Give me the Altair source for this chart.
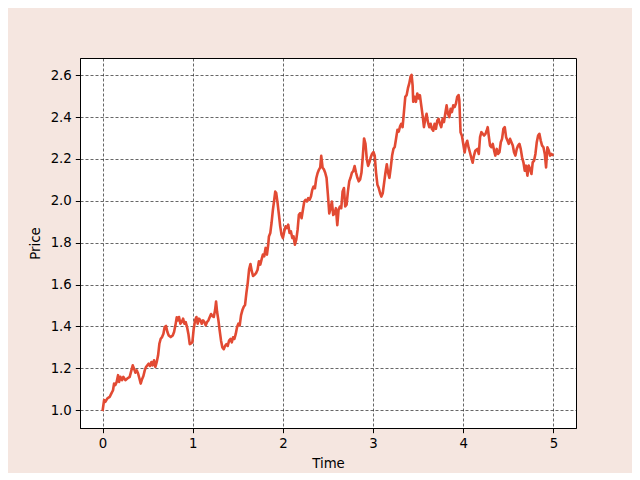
import altair as alt
import pandas as pd

# ---- data ----
times_a = [0.0, 0.017, 0.031, 0.054, 0.079, 0.098, 0.116, 0.128, 0.142, 0.157, 0.172, 0.183, 0.198, 0.216,
           0.231, 0.253, 0.275, 0.301, 0.320, 0.335, 0.349, 0.364, 0.379, 0.394, 0.409, 0.423, 0.438, 0.453,
           0.468, 0.482, 0.497, 0.512, 0.527, 0.542, 0.556, 0.571, 0.586, 0.601, 0.616, 0.630, 0.645, 0.660,
           0.675, 0.689, 0.704, 0.719, 0.734, 0.756, 0.778, 0.793, 0.808, 0.823, 0.837]
prices_a = [0.995, 1.048, 1.040, 1.056, 1.063, 1.080, 1.095, 1.127, 1.120, 1.135, 1.167, 1.135, 1.159, 1.143,
            1.159, 1.143, 1.151, 1.159, 1.190, 1.214, 1.198, 1.179, 1.190, 1.175, 1.151, 1.127, 1.148, 1.163,
            1.190, 1.206, 1.214, 1.222, 1.211, 1.230, 1.214, 1.238, 1.206, 1.230, 1.262, 1.317, 1.341, 1.349,
            1.365, 1.397, 1.402, 1.373, 1.357, 1.349, 1.357, 1.373, 1.405, 1.444, 1.429]

times_b = [0.848, 0.863, 0.878, 0.893, 0.908, 0.922, 0.937, 0.952, 0.967, 0.982, 0.996, 1.011, 1.026, 1.041,
           1.055, 1.070, 1.085, 1.100, 1.115, 1.129, 1.144, 1.159, 1.174, 1.189, 1.203, 1.218, 1.233, 1.248,
           1.259, 1.270, 1.285, 1.299, 1.314, 1.329, 1.344, 1.359, 1.373, 1.388, 1.403, 1.418, 1.433, 1.447,
           1.462, 1.477, 1.492, 1.506, 1.521, 1.536, 1.551, 1.566, 1.580, 1.595, 1.610, 1.625, 1.640, 1.654, 1.669]
prices_b = [1.445, 1.413, 1.421, 1.437, 1.413, 1.421, 1.397, 1.364, 1.315, 1.319, 1.324, 1.389, 1.429, 1.445,
            1.413, 1.437, 1.429, 1.413, 1.429, 1.421, 1.405, 1.421, 1.429, 1.445, 1.459, 1.449, 1.445, 1.478,
            1.519, 1.470, 1.429, 1.380, 1.332, 1.299, 1.291, 1.307, 1.315, 1.307, 1.332, 1.340, 1.324, 1.348,
            1.340, 1.364, 1.397, 1.413, 1.405, 1.454, 1.478, 1.494, 1.502, 1.559, 1.608, 1.673, 1.698, 1.665, 1.641]

times_c = [1.689, 1.704, 1.719, 1.734, 1.749, 1.763, 1.778, 1.793, 1.808, 1.823, 1.837, 1.845, 1.860, 1.874,
           1.889, 1.904, 1.915, 1.926, 1.941, 1.956, 1.970, 1.985, 2.000, 2.015, 2.030, 2.044, 2.059, 2.074,
           2.089, 2.104, 2.118, 2.133, 2.148, 2.163, 2.177, 2.192, 2.207, 2.222, 2.237, 2.251, 2.266, 2.281,
           2.296, 2.311, 2.325, 2.340, 2.355, 2.370, 2.384, 2.399, 2.414]
prices_c = [1.648, 1.656, 1.671, 1.711, 1.695, 1.719, 1.743, 1.735, 1.775, 1.743, 1.790, 1.830, 1.846, 1.894,
            1.957, 2.005, 2.044, 2.037, 1.989, 1.933, 1.878, 1.838, 1.822, 1.854, 1.878, 1.870, 1.886, 1.846,
            1.854, 1.822, 1.830, 1.790, 1.814, 1.862, 1.933, 1.941, 1.917, 1.957, 1.997, 2.005, 1.997, 2.013,
            2.005, 2.021, 2.052, 2.068, 2.060, 2.108, 2.132, 2.148, 2.160]

times_d = [2.425, 2.440, 2.455, 2.469, 2.484, 2.499, 2.514, 2.529, 2.543, 2.558, 2.573, 2.588, 2.603, 2.617,
           2.632, 2.647, 2.662, 2.677, 2.691, 2.706, 2.721, 2.736, 2.750, 2.765, 2.780, 2.795,
           2.811, 2.826, 2.841, 2.856, 2.871, 2.885, 2.900, 2.915, 2.930, 2.945, 2.959, 2.974, 2.989, 3.004,
           3.018, 3.033, 3.048, 3.063, 3.078, 3.092, 3.107, 3.122, 3.137, 3.152, 3.166, 3.181, 3.196, 3.211,
           3.226, 3.240, 3.255, 3.270, 3.285, 3.299]
prices_d = [2.215, 2.158, 2.150, 2.134, 2.110, 2.029, 1.940, 1.965, 1.997, 1.932, 1.940, 1.965, 1.884, 1.956,
            1.973, 1.965, 2.045, 2.061, 1.973, 1.981, 2.045, 2.094, 2.110, 2.134, 2.142, 2.166,
            2.134, 2.110, 2.093, 2.102, 2.134, 2.208, 2.298, 2.274, 2.200, 2.167, 2.184, 2.208, 2.225, 2.233,
            2.216, 2.134, 2.077, 2.061, 2.036, 2.020, 2.036, 2.085, 2.134, 2.175, 2.134, 2.110, 2.159, 2.216,
            2.249, 2.257, 2.298, 2.339, 2.331, 2.356]

times_e = [3.312, 3.327, 3.342, 3.357, 3.372, 3.386, 3.401, 3.416, 3.427, 3.438, 3.445, 3.460, 3.475, 3.490,
           3.505, 3.519, 3.534, 3.549, 3.564, 3.579, 3.593, 3.608, 3.623, 3.638, 3.652, 3.667, 3.682, 3.697,
           3.712, 3.726, 3.741, 3.756, 3.771, 3.786, 3.800, 3.815, 3.830, 3.845, 3.860, 3.874, 3.889, 3.904,
           3.919, 3.933, 3.948, 3.956, 3.970, 3.985, 4.000, 4.015, 4.030, 4.044, 4.059, 4.074, 4.089, 4.104,
           4.118, 4.133]
prices_e = [2.368, 2.352, 2.424, 2.497, 2.505, 2.537, 2.561, 2.594, 2.602, 2.553, 2.473, 2.497, 2.473, 2.513,
            2.489, 2.505, 2.456, 2.408, 2.352, 2.392, 2.416, 2.376, 2.352, 2.368, 2.344, 2.335, 2.368, 2.344,
            2.384, 2.392, 2.368, 2.352, 2.392, 2.376, 2.416, 2.456, 2.416, 2.400, 2.440, 2.424, 2.456, 2.448,
            2.465, 2.497, 2.505, 2.481, 2.327, 2.311, 2.271, 2.231, 2.271, 2.287, 2.255, 2.231, 2.206, 2.182,
            2.215, 2.239]

times_f = [4.157, 4.172, 4.186, 4.201, 4.216, 4.231, 4.246, 4.260, 4.271, 4.282, 4.297, 4.312, 4.327, 4.342,
           4.356, 4.371, 4.386, 4.401, 4.416, 4.430, 4.445, 4.460, 4.475, 4.490, 4.504, 4.519, 4.534, 4.549,
           4.563, 4.578, 4.593, 4.608, 4.623, 4.637, 4.652, 4.667, 4.682, 4.697, 4.711, 4.726, 4.741, 4.756,
           4.770, 4.785, 4.800, 4.815, 4.830, 4.844, 4.859, 4.874, 4.889, 4.904, 4.918, 4.933, 4.948, 4.963,
           4.977, 5.000]
prices_f = [2.248, 2.224, 2.304, 2.328, 2.320, 2.312, 2.320, 2.336, 2.352, 2.312, 2.264, 2.256, 2.272, 2.240,
            2.216, 2.248, 2.224, 2.232, 2.280, 2.296, 2.344, 2.352, 2.304, 2.288, 2.272, 2.296, 2.280, 2.264,
            2.232, 2.216, 2.248, 2.264, 2.272, 2.248, 2.208, 2.184, 2.144, 2.168, 2.120, 2.168, 2.152, 2.128,
            2.184, 2.192, 2.224, 2.280, 2.312, 2.320, 2.288, 2.264, 2.256, 2.224, 2.160, 2.256, 2.240, 2.216,
            2.224, 2.216]

x_ticks = [0, 1, 2, 3, 4, 5]
y_ticks = [1.0, 1.2, 1.4, 1.6, 1.8, 2.0, 2.2, 2.4, 2.6]

times = times_a + times_b + times_c + times_d + times_e + times_f
prices = prices_a + prices_b + prices_c + prices_d + prices_e + prices_f
df = pd.DataFrame({"Time": times, "Price": prices})

# matplotlib-like 5% margins
tmin, tmax = min(times), max(times)
pmin, pmax = min(prices), max(prices)
xm = 0.05 * (tmax - tmin)
ym = 0.05 * (pmax - pmin)

FONT = "DejaVu Sans"

chart = (
    alt.Chart(df)
    .mark_line(color="#E24A33", strokeWidth=2.6, strokeJoin="round", strokeCap="butt")
    .encode(
        x=alt.X("Time:Q",
                scale=alt.Scale(domain=[tmin - xm, tmax + xm], nice=False, zero=False),
                axis=alt.Axis(values=x_ticks, format="d", title="Time")),
        y=alt.Y("Price:Q",
                scale=alt.Scale(domain=[pmin - ym, pmax + ym], nice=False, zero=False),
                axis=alt.Axis(values=y_ticks, format=".1f", title="Price")),
        order="Time:Q",
    )
    .properties(
        width=496,
        height=370,
        background="#F5E6E0",
        autosize=alt.AutoSizeParams(type="none"),
        padding={"left": 72, "top": 50, "right": 56, "bottom": 45},
    )
    .configure_view(fill="white", stroke="black", strokeWidth=1)
    .configure_axis(
        grid=True,
        gridColor="black",
        gridWidth=0.6,
        gridDash=[3, 2],
        gridOpacity=1,
        domainColor="black",
        domainWidth=1,
        tickColor="black",
        tickSize=4.7,
        tickWidth=1,
        labelFont=FONT,
        labelFontSize=13.3,
        labelColor="black",
        labelPadding=4,
        titleFont=FONT,
        titleFontSize=13.3,
        titleFontWeight="normal",
        titleColor="black",
    )
    .configure_axisX(titlePadding=6)
    .configure_axisY(titlePadding=8)
)

chart.save("out.html", embed_options={"renderer": "svg", "actions": False})
